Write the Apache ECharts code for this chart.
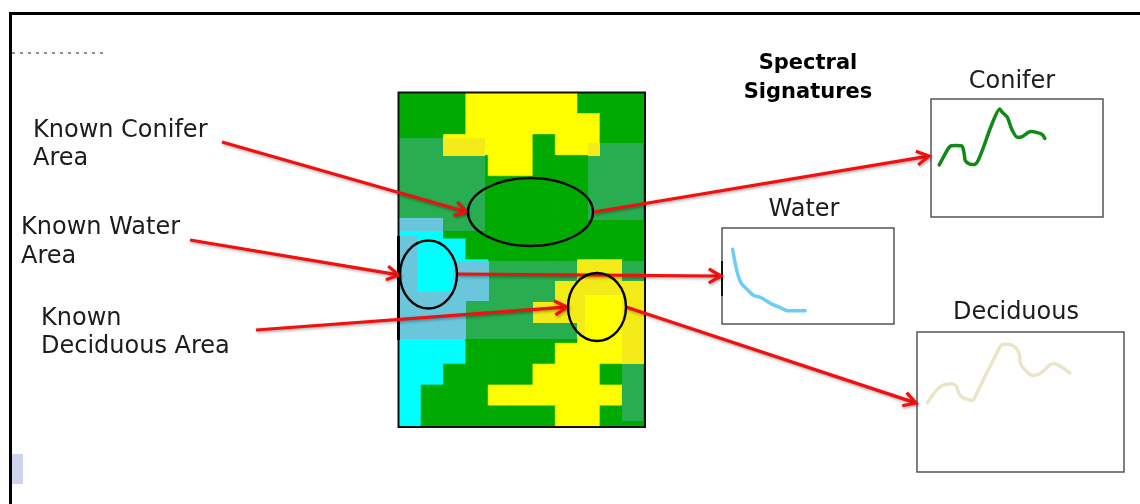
<!DOCTYPE html>
<html><head><meta charset="utf-8">
<style>html,body{margin:0;padding:0;background:#fff}#c{width:1140px;height:504px}</style>
<script src="https://cdn.jsdelivr.net/npm/echarts@6/dist/echarts.min.js"></script>
</head><body><div id="c"></div>
<script>
// Land-cover raster, top row first: G conifer, Y deciduous, C water
const rasterRows = [
 "GGGYYYYYGGG",
 "GGGYYYYYYGG",
 "GGYYYYGYYGG",
 "GGGGYYGGGGG",
 "GGGGGGGGGGG",
 "GGGGGGGGGGG",
 "CCGGGGGGGGG",
 "CCCGGGGGGGG",
 "CCCCGGGGYYG",
 "CCCCGGGYYYY",
 "CCCGGGYYYYY",
 "CCCGGGGGYYY",
 "CCCGGGGYYYY",
 "CCGGGGYYYGG",
 "CGGGYYYYYYG",
 "CGGGGGGYYGG"
];
const classCodes = {G:0, Y:1, C:2};
const classColors = ['#00aa00','#ffff00','#00ffff'];
// Lighter training patches: [left, top, right, bottom, tint]
const patches = [
 [399,138,485,231,"g"],[443,138,485,156,"y"],[399,218,443,231,"c"],
 [588,143,643,220,"g"],[588,143,600,156,"y"],
 [466,261,577,339,"g"],[622,261,645,281,"g"],[622,364,643,421,"g"],
 [399,236,417,339,"c"],[417,292,466,339,"c"],[453,261,489,301,"c"],
 [577,260,622,281,"y"],[555,281,645,295,"y"],[555,295,585,302,"y"],
 [533,302,585,323,"y"],[577,323,585,338,"y"],[622,295,645,364,"y"]
];
// Spectral signatures: position across the plot and height in the plot, percent
const coniferX = [4.8,7.7,11.2,14.5,18,19.3,19.9,22.2,25.1,27.4,30.9,34.7,40,41.5,44.4,46.9,50.2,53.1,57.9,61.8,64.7,66.2];
const coniferY = [44.2,52.1,60,60.6,60,53.5,47.9,45.1,44.5,47.9,60.6,76.1,91.5,88.7,84.5,74.6,67.6,68.2,72.4,71.5,69.9,66.5];
const waterX = [6.2,7.7,9.3,11.2,14.5,18.4,22.2,29,33.8,38.1,43.5,48.4];
const waterY = [77.9,63.1,51,42.4,36.2,29.7,27.9,20.7,17.2,13.8,13.8,13.8];
const deciduousX = [5,7.7,10.6,13.4,16.6,19,20.3,22.3,24.7,26.8,29.5,32.7,36.8,40.8,44,47.3,49.4,50,52.9,55.8,58.5,61.5,64.2,66.6,69,73.9];
const deciduousY = [49.5,55.2,60.2,62.4,63.1,61.4,56,52.9,51.9,51,58.3,67.9,79.8,90.5,91.2,89.3,84.5,77.4,71.9,69,69.8,72.6,76.7,77.4,75.7,70.7];
const titles = ["Conifer","Water","Deciduous"];

const FONT = '"DejaVu Sans"';
const colIdx = [...rasterRows[0]].map((_,i)=>String(i));
const rowIdx = rasterRows.map((_,i)=>String(i));
const heat = [];
rasterRows.forEach((r,y)=>[...r].forEach((ch,x)=>{
  const c=classCodes[ch];
  heat.push({value:[x,y,c],itemStyle:{borderColor:classColors[c],borderWidth:0.7}});
}));
const tint = {g:'#28ae50',y:'#f4ea18',c:'#69c6db'};
const zip = (a,b)=>a.map((v,i)=>[v,b[i]]);

const RASTER = {left:399,top:93,width:246,height:334};
const boxes = [
 {left:931,top:99,width:172,height:118},
 {left:722,top:228,width:172,height:96},
 {left:917,top:332,width:207,height:140}
];
const lineSeries = [[coniferX,coniferY,'#0f8a16'],[waterX,waterY,'#6ccdf7'],[deciduousX,deciduousY,'#ebe4c8']];

const grids=[RASTER,RASTER,...boxes].map((g,i)=> i<2 ? {...g,show:false} :
  {...g,show:true,backgroundColor:'#fff',borderColor:'#555',borderWidth:1.5});
const xAxes=[
 {type:'category',gridIndex:0,data:colIdx,show:false},
 {type:'value',gridIndex:1,min:399,max:645,show:false}
];
const yAxes=[
 {type:'category',gridIndex:0,data:rowIdx,inverse:true,show:false},
 {type:'value',gridIndex:1,min:93,max:427,inverse:true,show:false}
];
boxes.forEach((b,i)=>{
 xAxes.push({type:'value',gridIndex:i+2,min:0,max:100,show:false});
 yAxes.push({type:'value',gridIndex:i+2,min:0,max:100,show:false});
});
const series=[
 {type:'heatmap',xAxisIndex:0,yAxisIndex:0,data:heat,emphasis:{disabled:true},progressive:0,silent:true},
 {type:'custom',xAxisIndex:1,yAxisIndex:1,data:patches.map(p=>p.slice(0,4)),silent:true,z:3,clip:false,
  encode:{x:[0,2],y:[1,3]},
  renderItem:(params,api)=>{
   const a=api.coord([api.value(0),api.value(1)]),b=api.coord([api.value(2),api.value(3)]);
   return {type:'rect',shape:{x:a[0],y:a[1],width:b[0]-a[0],height:b[1]-a[1]},
     style:{fill:tint[patches[params.dataIndex][4]]}};
  }}
];
lineSeries.forEach((s,i)=>series.push({type:'line',xAxisIndex:i+2,yAxisIndex:i+2,data:zip(s[0],s[1]),
  showSymbol:false,symbol:'none',smooth:0.25,silent:true,animation:false,lineStyle:{color:s[2],width:3.5,cap:'round',join:'round'}}));

// Annotation layer
const g=[];
const Z=60;
const label=(t,x,y,size,extra)=>g.push({type:'text',z:Z,x,y,style:Object.assign({text:t,fill:'#1c1c1c',font:`${size}px ${FONT}`,textAlign:'left',textVerticalAlign:'middle'},extra||{})});
g.push({type:'line',z:Z,shape:{x1:10,y1:13.5,x2:1140,y2:13.5},style:{stroke:'#000',lineWidth:3}});
g.push({type:'line',z:Z,shape:{x1:10.5,y1:12,x2:10.5,y2:504},style:{stroke:'#000',lineWidth:3}});
g.push({type:'line',z:Z,shape:{x1:12,y1:53,x2:103,y2:53},style:{stroke:'#222',lineWidth:1.2,lineDash:[3,5]}});
g.push({type:'rect',z:Z,shape:{x:12,y:454,width:11,height:30},style:{fill:'#ced4ee'}});
g.push({type:'rect',z:Z+1,shape:{x:398.5,y:92.5,width:246.5,height:334.5},style:{fill:'none',stroke:'#111',lineWidth:2}});
g.push({type:'line',z:Z+1,shape:{x1:398.5,y1:236,x2:398.5,y2:340},style:{stroke:'#000',lineWidth:3}});
g.push({type:'line',z:Z+1,shape:{x1:722,y1:261,x2:722,y2:296},style:{stroke:'#111',lineWidth:2}});

[[530.5,212,62.5,34],[428.5,274.5,28.5,34],[597,307,29,34]].forEach(e=>
 g.push({type:'ellipse',z:Z+3,shape:{cx:e[0],cy:e[1],rx:e[2],ry:e[3]},style:{fill:'none',stroke:'#000',lineWidth:2.4}}));

const shadow={shadowBlur:3,shadowColor:'rgba(0,0,0,0.35)',shadowOffsetX:1,shadowOffsetY:1.5};
[[222,142,467,212],[190,240,399,275],[256,330,567,307],[594,212,929,156],[457,274,721,276],[626,307,916,403]].forEach(a=>{
 const [x1,y1,x2,y2]=a, t=Math.atan2(y2-y1,x2-x1), L=14, W=0.52;
 g.push({type:'line',z:Z+2,shape:{x1,y1,x2:x2-2,y2:y2-2*Math.sin(t)},style:Object.assign({stroke:'#f40f0f',lineWidth:3.2},shadow)});
 g.push({type:'polyline',z:Z+2,shape:{points:[[x2-L*Math.cos(t-W),y2-L*Math.sin(t-W)],[x2,y2],[x2-L*Math.cos(t+W),y2-L*Math.sin(t+W)]]},
   style:Object.assign({stroke:'#f40f0f',fill:'none',lineWidth:3.2},shadow)});
});

label('Known Conifer',33,130.5,24); label('Area',33,158.5,24);
label('Known Water',21,227.5,24); label('Area',21,256.5,24);
label('Known',41,318.5,24); label('Deciduous Area',41,346.5,24);
const center={textAlign:'center'};
label('Spectral',808,64,21,{textAlign:'center',font:`bold 21px ${FONT}`,fill:'#000'});
label('Signatures',808,93,21,{textAlign:'center',font:`bold 21px ${FONT}`,fill:'#000'});
label(titles[0],1012,82,24,center);
label(titles[1],804,210,24,center);
label(titles[2],1016,313,24,center);

const chart=echarts.init(document.getElementById('c'),null,{renderer:'canvas'});
chart.setOption({
 animation:false,backgroundColor:'#fff',
 grid:grids,xAxis:xAxes,yAxis:yAxes,
 visualMap:{show:false,type:'piecewise',seriesIndex:0,dimension:2,
   pieces:[{value:0,color:classColors[0]},{value:1,color:classColors[1]},{value:2,color:classColors[2]}]},
 series,graphic:{elements:g}
});
</script></body></html>
